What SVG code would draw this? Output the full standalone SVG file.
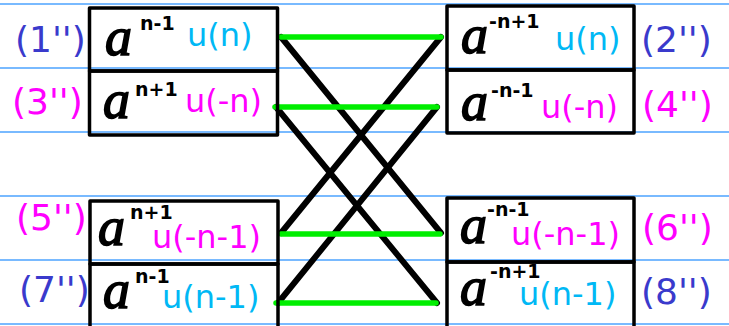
<svg xmlns="http://www.w3.org/2000/svg" width="729" height="326" viewBox="0 0 729 326">
<style>
.rule{stroke:#4da3ff;stroke-width:1.5}
.box{fill:none;stroke:#000;stroke-width:3.5;stroke-linejoin:round}
.a{font-family:"Liberation Serif",serif;font-style:italic;font-size:54px;fill:#000;stroke:#000;stroke-width:1.6}
.sup{font-family:"DejaVu Sans",sans-serif;font-weight:bold;font-size:19px;fill:#000}
.u{font-family:"DejaVu Sans",sans-serif;font-size:32px}
.lbl{font-family:"DejaVu Sans",sans-serif;font-size:36px}
.cy{fill:#00b8f5}
.mg{fill:#ff00ff}
.bv{fill:#3a3acc}
.blk{stroke:#000;stroke-width:6;stroke-linecap:round;fill:none}
.grn{stroke:#00ee00;stroke-width:5.5;stroke-linecap:round;fill:none}
</style>
<rect width="729" height="326" fill="#fff"/>
<g id="rules">
<line class="rule" x1="0" y1="4" x2="729" y2="4"/>
<line class="rule" x1="0" y1="68" x2="729" y2="68"/>
<line class="rule" x1="0" y1="132" x2="729" y2="132"/>
<line class="rule" x1="0" y1="196" x2="729" y2="196"/>
<line class="rule" x1="0" y1="260" x2="729" y2="260"/>
<line class="rule" x1="0" y1="324" x2="729" y2="324"/>
</g>
<g id="connectors">
<line class="blk" x1="281" y1="37" x2="441" y2="233"/>
<line class="blk" x1="276" y1="107" x2="437" y2="303"/>
<line class="blk" x1="441" y1="37" x2="281" y2="233"/>
<line class="blk" x1="437" y1="107" x2="278" y2="303"/>
<line class="grn" x1="281" y1="37" x2="441" y2="37"/>
<line class="grn" x1="275" y1="107" x2="437" y2="107"/>
<line class="grn" x1="281" y1="234" x2="440" y2="234"/>
<line class="grn" x1="276" y1="303" x2="436" y2="303"/>
</g>
<g id="n1">
<rect class="box" x="89.5" y="8" width="188" height="63"/>
<text class="a" x="105" y="55">a</text>
<text class="sup" x="140" y="30">n-1</text>
<text class="u cy" x="187" y="46">u(n)</text>
<text class="lbl bv" x="15" y="52">(1'')</text>
</g>
<g id="n3">
<rect class="box" x="89.5" y="71" width="188" height="64"/>
<text class="a" x="103" y="118">a</text>
<text class="sup" x="135" y="96">n+1</text>
<text class="u mg" x="185" y="112">u(-n)</text>
<text class="lbl mg" x="12" y="114">(3'')</text>
</g>
<g id="n2">
<rect class="box" x="447" y="6" width="187" height="64"/>
<text class="a" x="461" y="53">a</text>
<text class="sup" x="489" y="28">-n+1</text>
<text class="u cy" x="555" y="50">u(n)</text>
<text class="lbl bv" x="641" y="52">(2'')</text>
</g>
<g id="n4">
<rect class="box" x="447" y="70" width="187" height="63"/>
<text class="a" x="461" y="120">a</text>
<text class="sup" x="491" y="97">-n-1</text>
<text class="u mg" x="541" y="118">u(-n)</text>
<text class="lbl mg" x="642" y="117">(4'')</text>
</g>
<g id="n5">
<rect class="box" x="90" y="201" width="188" height="63"/>
<text class="a" x="98" y="245">a</text>
<text class="sup" x="130" y="219">n+1</text>
<text class="u mg" x="152" y="248">u(-n-1)</text>
<text class="lbl mg" x="16" y="230">(5'')</text>
</g>
<g id="n7">
<rect class="box" x="90" y="264" width="188" height="66"/>
<text class="a" x="103" y="308">a</text>
<text class="sup" x="135" y="283">n-1</text>
<text class="u cy" x="162" y="308">u(n-1)</text>
<text class="lbl bv" x="19" y="302">(7'')</text>
</g>
<g id="n6">
<rect class="box" x="447" y="198" width="187" height="64"/>
<text class="a" x="460" y="243">a</text>
<text class="sup" x="487" y="216">-n-1</text>
<text class="u mg" x="511" y="245">u(-n-1)</text>
<text class="lbl mg" x="642" y="240">(6'')</text>
</g>
<g id="n8">
<rect class="box" x="447" y="262" width="187" height="68"/>
<text class="a" x="460" y="305">a</text>
<text class="sup" x="490" y="278">-n+1</text>
<text class="u cy" x="519" y="305">u(n-1)</text>
<text class="lbl bv" x="641" y="304">(8'')</text>
</g>
</svg>
